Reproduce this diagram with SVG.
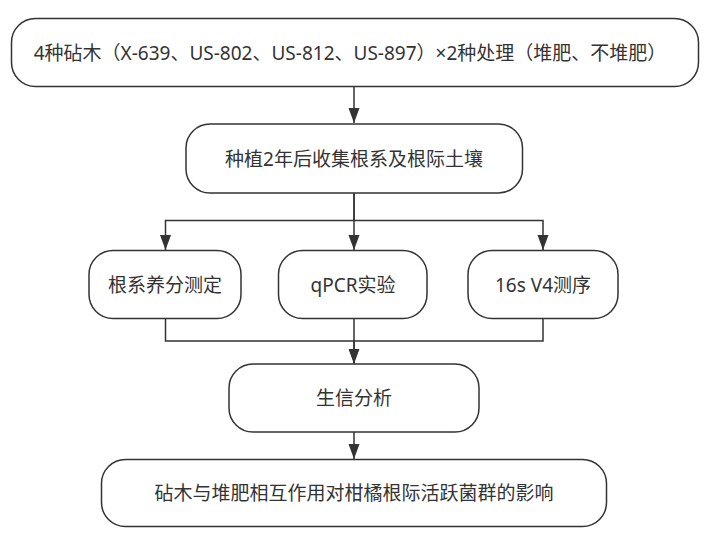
<svg xmlns="http://www.w3.org/2000/svg" width="712" height="552" viewBox="0 0 712 552">
<style>
.box{fill:#ffffff;stroke:#333333;stroke-width:1.5}
.lbl{font-family:"Noto Sans","Noto Sans CJK SC","Liberation Sans",sans-serif;font-size:19px;fill:#333333;text-anchor:middle;dominant-baseline:central}
.edge{fill:none;stroke:#333333;stroke-width:1.5}
</style>
<defs>
<marker id="arr" markerUnits="userSpaceOnUse" markerWidth="16" markerHeight="12" viewBox="0 0 16 12" refX="15" refY="6" orient="auto">
<path d="M0,0.5 L15,6 L0,11.5 z" fill="#333333"/>
</marker>
</defs>
<rect width="712" height="552" fill="#ffffff"/>
<g id="connectors">
<path class="edge" d="M354,86.5 V123" marker-end="url(#arr)"/>
<path class="edge" d="M354,193 V220.5 H165.5 V250" marker-end="url(#arr)"/>
<path class="edge" d="M354,193 V250" marker-end="url(#arr)"/>
<path class="edge" d="M354,220.5 H543 V250" marker-end="url(#arr)"/>
<path class="edge" d="M165.5,318.5 V341 H354 V363.5" marker-end="url(#arr)"/>
<path class="edge" d="M354,318.5 V363.5" marker-end="url(#arr)"/>
<path class="edge" d="M543,318.5 V341 H354" />
<path class="edge" d="M354,432 V459" marker-end="url(#arr)"/>
</g>
<g id="n1">
<rect class="box" x="11.5" y="18.5" width="687" height="68" rx="24" ry="24"/>
<text class="lbl" x="350" y="52.5">4种砧木（X-639、US-802、US-812、US-897）×2种处理（堆肥、不堆肥）</text>
</g>
<g id="n2">
<rect class="box" x="186" y="124" width="336.5" height="69" rx="24" ry="24"/>
<text class="lbl" x="354" y="158.5">种植2年后收集根系及根际土壤</text>
</g>
<g id="n3">
<rect class="box" x="89" y="250.5" width="152" height="68" rx="24" ry="24"/>
<text class="lbl" x="165" y="284.5">根系养分测定</text>
</g>
<g id="n4">
<rect class="box" x="278.5" y="250.5" width="148.5" height="68" rx="24" ry="24"/>
<text class="lbl" x="353" y="284.5">qPCR实验</text>
</g>
<g id="n5">
<rect class="box" x="468" y="250.5" width="150" height="68" rx="24" ry="24"/>
<text class="lbl" x="543" y="284.5">16s V4测序</text>
</g>
<g id="n6">
<rect class="box" x="229" y="364" width="250" height="68" rx="24" ry="24"/>
<text class="lbl" x="354" y="398">生信分析</text>
</g>
<g id="n7">
<rect class="box" x="101.5" y="459.5" width="505" height="67" rx="24" ry="24"/>
<text class="lbl" x="354" y="493">砧木与堆肥相互作用对柑橘根际活跃菌群的影响</text>
</g>
</svg>
